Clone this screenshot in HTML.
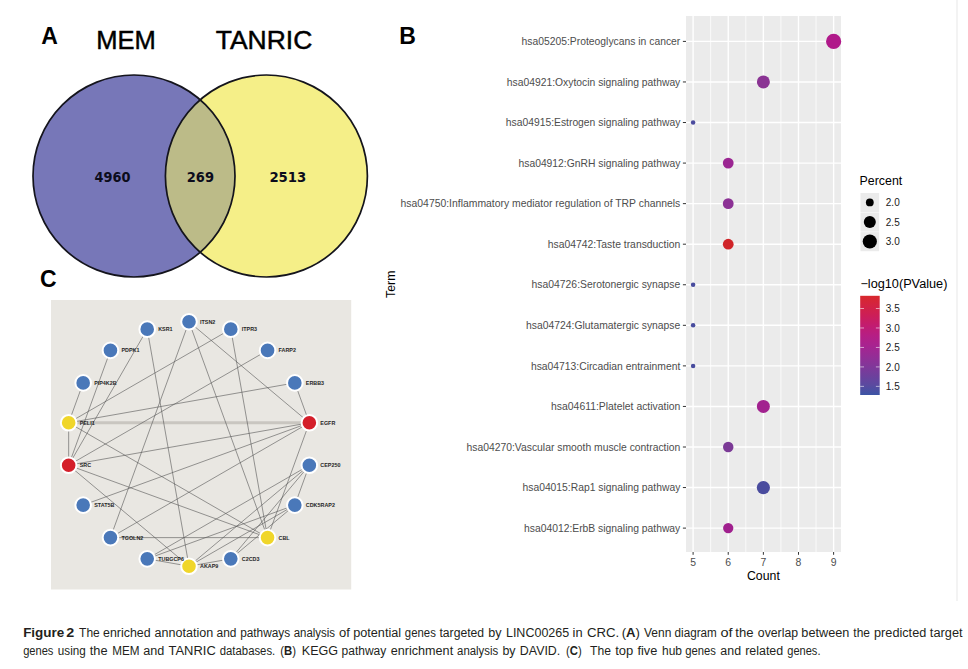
<!DOCTYPE html>
<html><head><meta charset="utf-8"><style>
html,body{margin:0;padding:0;background:#fff;}
body{width:968px;height:669px;position:relative;overflow:hidden;}
svg{position:absolute;left:0;top:0;}
.lab{font:bold 23px "Liberation Sans",sans-serif;fill:#000;}
.vt{font:25px "Liberation Sans",sans-serif;fill:#000;stroke:#000;stroke-width:0.45px;}
.vn{font-family:"DejaVu Sans",sans-serif;font-weight:bold;font-stretch:condensed;font-size:14.6px;fill:#0c0c1c;}
.yl{font:10.3px "Liberation Sans",sans-serif;fill:#4d4d4d;}
.xl{font:10.45px "Liberation Sans",sans-serif;fill:#4d4d4d;text-anchor:middle;}
.ll{font:10px "Liberation Sans",sans-serif;fill:#1a1a1a;}
.ttl{font:12.3px "Liberation Sans",sans-serif;fill:#000;}
.cp{font:12px "Liberation Sans",sans-serif;fill:#231f20;}
.nl{font:bold 5.4px "Liberation Sans",sans-serif;fill:#262626;}
</style></head><body>
<svg width="968" height="669" viewBox="0 0 968 669">

<text x="41.3" y="43.8" class="lab">A</text>
<text x="96.3" y="49.2" class="vt" textLength="59.6" lengthAdjust="spacingAndGlyphs">MEM</text>
<text x="215.7" y="49.2" class="vt" textLength="96.6" lengthAdjust="spacingAndGlyphs">TANRIC</text>
<defs><clipPath id="cl"><circle cx="134" cy="176" r="101"/></clipPath></defs>
<circle cx="134" cy="176" r="101" fill="#7777b8"/>
<circle cx="266.4" cy="176" r="101" fill="#f5ef88"/>
<circle cx="266.4" cy="176" r="101" fill="#bcbb88" clip-path="url(#cl)"/>
<circle cx="134" cy="176" r="101" fill="none" stroke="#14141c" stroke-width="1.7"/>
<circle cx="266.4" cy="176" r="101" fill="none" stroke="#14141c" stroke-width="1.7"/>
<text x="94.6" y="182.2" class="vn" textLength="35.9" lengthAdjust="spacingAndGlyphs">4960</text>
<text x="186.8" y="182.2" class="vn" textLength="27.2" lengthAdjust="spacingAndGlyphs">269</text>
<text x="269.4" y="182.2" class="vn" textLength="36.9" lengthAdjust="spacingAndGlyphs">2513</text>

<text x="399.3" y="43.8" class="lab">B</text>
<rect x="686" y="16" width="155" height="536" fill="#ebebeb"/>
<line x1="710.67" y1="16" x2="710.67" y2="552" stroke="#fff" stroke-width="0.75"/>
<line x1="745.80" y1="16" x2="745.80" y2="552" stroke="#fff" stroke-width="0.75"/>
<line x1="780.93" y1="16" x2="780.93" y2="552" stroke="#fff" stroke-width="0.75"/>
<line x1="816.06" y1="16" x2="816.06" y2="552" stroke="#fff" stroke-width="0.75"/>
<line x1="686" y1="41.40" x2="841" y2="41.40" stroke="#fff" stroke-width="1.4"/>
<line x1="686" y1="81.96" x2="841" y2="81.96" stroke="#fff" stroke-width="1.4"/>
<line x1="686" y1="122.52" x2="841" y2="122.52" stroke="#fff" stroke-width="1.4"/>
<line x1="686" y1="163.08" x2="841" y2="163.08" stroke="#fff" stroke-width="1.4"/>
<line x1="686" y1="203.64" x2="841" y2="203.64" stroke="#fff" stroke-width="1.4"/>
<line x1="686" y1="244.20" x2="841" y2="244.20" stroke="#fff" stroke-width="1.4"/>
<line x1="686" y1="284.76" x2="841" y2="284.76" stroke="#fff" stroke-width="1.4"/>
<line x1="686" y1="325.32" x2="841" y2="325.32" stroke="#fff" stroke-width="1.4"/>
<line x1="686" y1="365.88" x2="841" y2="365.88" stroke="#fff" stroke-width="1.4"/>
<line x1="686" y1="406.44" x2="841" y2="406.44" stroke="#fff" stroke-width="1.4"/>
<line x1="686" y1="447.00" x2="841" y2="447.00" stroke="#fff" stroke-width="1.4"/>
<line x1="686" y1="487.56" x2="841" y2="487.56" stroke="#fff" stroke-width="1.4"/>
<line x1="686" y1="528.12" x2="841" y2="528.12" stroke="#fff" stroke-width="1.4"/>
<line x1="693.10" y1="16" x2="693.10" y2="552" stroke="#fff" stroke-width="1.4"/>
<line x1="728.23" y1="16" x2="728.23" y2="552" stroke="#fff" stroke-width="1.4"/>
<line x1="763.36" y1="16" x2="763.36" y2="552" stroke="#fff" stroke-width="1.4"/>
<line x1="798.49" y1="16" x2="798.49" y2="552" stroke="#fff" stroke-width="1.4"/>
<line x1="833.62" y1="16" x2="833.62" y2="552" stroke="#fff" stroke-width="1.4"/>
<line x1="682.9" y1="41.40" x2="686" y2="41.40" stroke="#333" stroke-width="1"/>
<text x="521.50" y="45.10" class="yl" textLength="158.80" lengthAdjust="spacingAndGlyphs">hsa05205:Proteoglycans in cancer</text>
<line x1="682.9" y1="81.96" x2="686" y2="81.96" stroke="#333" stroke-width="1"/>
<text x="506.80" y="85.66" class="yl" textLength="173.50" lengthAdjust="spacingAndGlyphs">hsa04921:Oxytocin signaling pathway</text>
<line x1="682.9" y1="122.52" x2="686" y2="122.52" stroke="#333" stroke-width="1"/>
<text x="505.80" y="126.22" class="yl" textLength="174.50" lengthAdjust="spacingAndGlyphs">hsa04915:Estrogen signaling pathway</text>
<line x1="682.9" y1="163.08" x2="686" y2="163.08" stroke="#333" stroke-width="1"/>
<text x="518.50" y="166.78" class="yl" textLength="161.80" lengthAdjust="spacingAndGlyphs">hsa04912:GnRH signaling pathway</text>
<line x1="682.9" y1="203.64" x2="686" y2="203.64" stroke="#333" stroke-width="1"/>
<text x="400.60" y="207.34" class="yl" textLength="279.70" lengthAdjust="spacingAndGlyphs">hsa04750:Inflammatory mediator regulation of TRP channels</text>
<line x1="682.9" y1="244.20" x2="686" y2="244.20" stroke="#333" stroke-width="1"/>
<text x="547.70" y="247.90" class="yl" textLength="132.60" lengthAdjust="spacingAndGlyphs">hsa04742:Taste transduction</text>
<line x1="682.9" y1="284.76" x2="686" y2="284.76" stroke="#333" stroke-width="1"/>
<text x="531.60" y="288.46" class="yl" textLength="148.70" lengthAdjust="spacingAndGlyphs">hsa04726:Serotonergic synapse</text>
<line x1="682.9" y1="325.32" x2="686" y2="325.32" stroke="#333" stroke-width="1"/>
<text x="526.10" y="329.02" class="yl" textLength="154.20" lengthAdjust="spacingAndGlyphs">hsa04724:Glutamatergic synapse</text>
<line x1="682.9" y1="365.88" x2="686" y2="365.88" stroke="#333" stroke-width="1"/>
<text x="530.90" y="369.58" class="yl" textLength="149.40" lengthAdjust="spacingAndGlyphs">hsa04713:Circadian entrainment</text>
<line x1="682.9" y1="406.44" x2="686" y2="406.44" stroke="#333" stroke-width="1"/>
<text x="551.10" y="410.14" class="yl" textLength="129.20" lengthAdjust="spacingAndGlyphs">hsa04611:Platelet activation</text>
<line x1="682.9" y1="447.00" x2="686" y2="447.00" stroke="#333" stroke-width="1"/>
<text x="466.50" y="450.70" class="yl" textLength="213.80" lengthAdjust="spacingAndGlyphs">hsa04270:Vascular smooth muscle contraction</text>
<line x1="682.9" y1="487.56" x2="686" y2="487.56" stroke="#333" stroke-width="1"/>
<text x="522.50" y="491.26" class="yl" textLength="157.80" lengthAdjust="spacingAndGlyphs">hsa04015:Rap1 signaling pathway</text>
<line x1="682.9" y1="528.12" x2="686" y2="528.12" stroke="#333" stroke-width="1"/>
<text x="524.00" y="531.82" class="yl" textLength="156.30" lengthAdjust="spacingAndGlyphs">hsa04012:ErbB signaling pathway</text>
<line x1="693.10" y1="552" x2="693.10" y2="554.8" stroke="#333" stroke-width="1"/>
<text x="693.10" y="565.5" class="xl">5</text>
<line x1="728.23" y1="552" x2="728.23" y2="554.8" stroke="#333" stroke-width="1"/>
<text x="728.23" y="565.5" class="xl">6</text>
<line x1="763.36" y1="552" x2="763.36" y2="554.8" stroke="#333" stroke-width="1"/>
<text x="763.36" y="565.5" class="xl">7</text>
<line x1="798.49" y1="552" x2="798.49" y2="554.8" stroke="#333" stroke-width="1"/>
<text x="798.49" y="565.5" class="xl">8</text>
<line x1="833.62" y1="552" x2="833.62" y2="554.8" stroke="#333" stroke-width="1"/>
<text x="833.62" y="565.5" class="xl">9</text>
<text x="763.4" y="580.2" class="ttl" text-anchor="middle">Count</text>
<text transform="translate(394.6,284.3) rotate(-90)" class="ttl" text-anchor="middle">Term</text>
<circle cx="833.62" cy="41.40" r="7.6" fill="#b0198a"/>
<circle cx="763.36" cy="81.96" r="6.5" fill="#8a3393"/>
<circle cx="693.10" cy="122.52" r="2.25" fill="#4c4c9e"/>
<circle cx="728.23" cy="163.08" r="5.4" fill="#9b2692"/>
<circle cx="728.23" cy="203.64" r="5.4" fill="#8c3195"/>
<circle cx="728.23" cy="244.20" r="5.4" fill="#d02428"/>
<circle cx="693.10" cy="284.76" r="2.25" fill="#484c9e"/>
<circle cx="693.10" cy="325.32" r="2.25" fill="#484c9e"/>
<circle cx="693.10" cy="365.88" r="2.25" fill="#484c9e"/>
<circle cx="763.36" cy="406.44" r="6.5" fill="#a2228f"/>
<circle cx="728.23" cy="447.00" r="5.25" fill="#7b3a96"/>
<circle cx="763.36" cy="487.56" r="6.6" fill="#4a4c9e"/>
<circle cx="728.23" cy="528.12" r="5.15" fill="#a0208e"/>
<text x="859.6" y="184.9" class="ttl" textLength="42.6" lengthAdjust="spacingAndGlyphs">Percent</text>
<rect x="860.5" y="193.00" width="18.6" height="19.1" fill="#ebebeb"/>
<circle cx="869.8" cy="202.40" r="3.9" fill="#000"/>
<text x="885.8" y="206.00" class="ll">2.0</text>
<rect x="860.5" y="212.55" width="18.6" height="19.1" fill="#ebebeb"/>
<circle cx="869.8" cy="221.95" r="6.0" fill="#000"/>
<text x="885.8" y="225.55" class="ll">2.5</text>
<rect x="860.5" y="232.10" width="18.6" height="19.1" fill="#ebebeb"/>
<circle cx="869.8" cy="241.50" r="7.1" fill="#000"/>
<text x="885.8" y="245.10" class="ll">3.0</text>
<text x="860.4" y="288" class="ttl" textLength="87" lengthAdjust="spacingAndGlyphs">−log10(PValue)</text>
<defs><linearGradient id="cg" x1="0" y1="1" x2="0" y2="0">
<stop offset="0" stop-color="#3c54a5"/><stop offset="0.1" stop-color="#5a4aa0"/><stop offset="0.2" stop-color="#6f3f9c"/>
<stop offset="0.3" stop-color="#833699"/><stop offset="0.4" stop-color="#962c95"/><stop offset="0.5" stop-color="#a82390"/>
<stop offset="0.6" stop-color="#b61e84"/><stop offset="0.7" stop-color="#c21c70"/><stop offset="0.8" stop-color="#cc1e58"/>
<stop offset="0.9" stop-color="#d32342"/><stop offset="1" stop-color="#d8282c"/></linearGradient></defs>
<rect x="860.2" y="295.8" width="19.5" height="99.2" fill="url(#cg)"/>
<line x1="860.2" y1="308.50" x2="864" y2="308.50" stroke="#fff" stroke-opacity="0.7" stroke-width="0.8"/>
<line x1="875.9" y1="308.50" x2="879.7" y2="308.50" stroke="#fff" stroke-opacity="0.7" stroke-width="0.8"/>
<text x="885.8" y="312.10" class="ll">3.5</text>
<line x1="860.2" y1="327.97" x2="864" y2="327.97" stroke="#fff" stroke-opacity="0.7" stroke-width="0.8"/>
<line x1="875.9" y1="327.97" x2="879.7" y2="327.97" stroke="#fff" stroke-opacity="0.7" stroke-width="0.8"/>
<text x="885.8" y="331.57" class="ll">3.0</text>
<line x1="860.2" y1="347.44" x2="864" y2="347.44" stroke="#fff" stroke-opacity="0.7" stroke-width="0.8"/>
<line x1="875.9" y1="347.44" x2="879.7" y2="347.44" stroke="#fff" stroke-opacity="0.7" stroke-width="0.8"/>
<text x="885.8" y="351.04" class="ll">2.5</text>
<line x1="860.2" y1="366.91" x2="864" y2="366.91" stroke="#fff" stroke-opacity="0.7" stroke-width="0.8"/>
<line x1="875.9" y1="366.91" x2="879.7" y2="366.91" stroke="#fff" stroke-opacity="0.7" stroke-width="0.8"/>
<text x="885.8" y="370.51" class="ll">2.0</text>
<line x1="860.2" y1="386.38" x2="864" y2="386.38" stroke="#fff" stroke-opacity="0.7" stroke-width="0.8"/>
<line x1="875.9" y1="386.38" x2="879.7" y2="386.38" stroke="#fff" stroke-opacity="0.7" stroke-width="0.8"/>
<text x="885.8" y="389.98" class="ll">1.5</text>
<rect x="956" y="0" width="2" height="601" fill="#f3f3f3"/>
<text x="40" y="286.6" class="lab">C</text>
<rect x="51" y="300" width="300.2" height="289.5" fill="#e9e7e2"/>
<line x1="68.66" y1="422.78" x2="309.34" y2="422.78" stroke="#c9c6c0" stroke-width="3"/>
<line x1="68.66" y1="422.78" x2="68.66" y2="465.22" stroke="#555" stroke-width="0.6"/>
<line x1="68.66" y1="422.78" x2="83.17" y2="382.90" stroke="#555" stroke-width="0.6"/>
<line x1="68.66" y1="422.78" x2="230.79" y2="329.17" stroke="#555" stroke-width="0.6"/>
<line x1="68.66" y1="422.78" x2="294.83" y2="382.90" stroke="#555" stroke-width="0.6"/>
<line x1="68.66" y1="422.78" x2="267.55" y2="537.61" stroke="#555" stroke-width="0.6"/>
<line x1="68.66" y1="465.22" x2="147.21" y2="329.17" stroke="#555" stroke-width="0.6"/>
<line x1="68.66" y1="465.22" x2="110.45" y2="350.39" stroke="#555" stroke-width="0.6"/>
<line x1="68.66" y1="465.22" x2="267.55" y2="350.39" stroke="#555" stroke-width="0.6"/>
<line x1="68.66" y1="465.22" x2="309.34" y2="422.78" stroke="#555" stroke-width="0.6"/>
<line x1="68.66" y1="465.22" x2="267.55" y2="537.61" stroke="#555" stroke-width="0.6"/>
<line x1="68.66" y1="465.22" x2="189.00" y2="566.20" stroke="#555" stroke-width="0.6"/>
<line x1="309.34" y1="422.78" x2="189.00" y2="321.80" stroke="#555" stroke-width="0.6"/>
<line x1="309.34" y1="422.78" x2="294.83" y2="382.90" stroke="#555" stroke-width="0.6"/>
<line x1="309.34" y1="422.78" x2="83.17" y2="505.10" stroke="#555" stroke-width="0.6"/>
<line x1="309.34" y1="422.78" x2="110.45" y2="537.61" stroke="#555" stroke-width="0.6"/>
<line x1="309.34" y1="422.78" x2="267.55" y2="537.61" stroke="#555" stroke-width="0.6"/>
<line x1="267.55" y1="537.61" x2="189.00" y2="321.80" stroke="#555" stroke-width="0.6"/>
<line x1="267.55" y1="537.61" x2="230.79" y2="329.17" stroke="#555" stroke-width="0.6"/>
<line x1="267.55" y1="537.61" x2="110.45" y2="537.61" stroke="#555" stroke-width="0.6"/>
<line x1="189.00" y1="566.20" x2="147.21" y2="329.17" stroke="#555" stroke-width="0.6"/>
<line x1="189.00" y1="566.20" x2="147.21" y2="558.83" stroke="#555" stroke-width="0.6"/>
<line x1="189.00" y1="566.20" x2="230.79" y2="558.83" stroke="#555" stroke-width="0.6"/>
<line x1="189.00" y1="566.20" x2="309.34" y2="465.22" stroke="#555" stroke-width="0.6"/>
<line x1="189.00" y1="566.20" x2="294.83" y2="505.10" stroke="#555" stroke-width="0.6"/>
<line x1="309.34" y1="465.22" x2="294.83" y2="505.10" stroke="#555" stroke-width="0.6"/>
<line x1="309.34" y1="465.22" x2="147.21" y2="558.83" stroke="#555" stroke-width="0.6"/>
<line x1="309.34" y1="465.22" x2="230.79" y2="558.83" stroke="#555" stroke-width="0.6"/>
<line x1="294.83" y1="505.10" x2="147.21" y2="558.83" stroke="#555" stroke-width="0.6"/>
<line x1="294.83" y1="505.10" x2="230.79" y2="558.83" stroke="#555" stroke-width="0.6"/>
<line x1="189.00" y1="321.80" x2="110.45" y2="537.61" stroke="#555" stroke-width="0.6"/>
<circle cx="189.00" cy="321.80" r="7.8" fill="#4a78b9" stroke="#fff" stroke-width="2"/>
<text x="200.00" y="323.70" class="nl">ITSN2</text>
<circle cx="230.79" cy="329.17" r="7.8" fill="#4a78b9" stroke="#fff" stroke-width="2"/>
<text x="241.79" y="331.07" class="nl">ITPR3</text>
<circle cx="267.55" cy="350.39" r="7.8" fill="#4a78b9" stroke="#fff" stroke-width="2"/>
<text x="278.55" y="352.29" class="nl">FARP2</text>
<circle cx="294.83" cy="382.90" r="7.8" fill="#4a78b9" stroke="#fff" stroke-width="2"/>
<text x="305.83" y="384.80" class="nl">ERBB3</text>
<circle cx="309.34" cy="422.78" r="7.8" fill="#d41f2a" stroke="#fff" stroke-width="2"/>
<text x="320.34" y="424.68" class="nl">EGFR</text>
<circle cx="309.34" cy="465.22" r="7.8" fill="#4a78b9" stroke="#fff" stroke-width="2"/>
<text x="320.34" y="467.12" class="nl">CEP250</text>
<circle cx="294.83" cy="505.10" r="7.8" fill="#4a78b9" stroke="#fff" stroke-width="2"/>
<text x="305.83" y="507.00" class="nl">CDK5RAP2</text>
<circle cx="267.55" cy="537.61" r="7.8" fill="#f0d62a" stroke="#fff" stroke-width="2"/>
<text x="278.55" y="539.51" class="nl">CBL</text>
<circle cx="230.79" cy="558.83" r="7.8" fill="#4a78b9" stroke="#fff" stroke-width="2"/>
<text x="241.79" y="560.73" class="nl">C2CD3</text>
<circle cx="189.00" cy="566.20" r="7.8" fill="#f0d62a" stroke="#fff" stroke-width="2"/>
<text x="200.00" y="568.10" class="nl">AKAP9</text>
<circle cx="147.21" cy="558.83" r="7.8" fill="#4a78b9" stroke="#fff" stroke-width="2"/>
<text x="158.21" y="560.73" class="nl">TUBGCP6</text>
<circle cx="110.45" cy="537.61" r="7.8" fill="#4a78b9" stroke="#fff" stroke-width="2"/>
<text x="121.45" y="539.51" class="nl">TGOLN2</text>
<circle cx="83.17" cy="505.10" r="7.8" fill="#4a78b9" stroke="#fff" stroke-width="2"/>
<text x="94.17" y="507.00" class="nl">STAT5B</text>
<circle cx="68.66" cy="465.22" r="7.8" fill="#d41f2a" stroke="#fff" stroke-width="2"/>
<text x="79.66" y="467.12" class="nl">SRC</text>
<circle cx="68.66" cy="422.78" r="7.8" fill="#f0d62a" stroke="#fff" stroke-width="2"/>
<text x="79.66" y="424.68" class="nl">PELI1</text>
<circle cx="83.17" cy="382.90" r="7.8" fill="#4a78b9" stroke="#fff" stroke-width="2"/>
<text x="94.17" y="384.80" class="nl">PIP4K2B</text>
<circle cx="110.45" cy="350.39" r="7.8" fill="#4a78b9" stroke="#fff" stroke-width="2"/>
<text x="121.45" y="352.29" class="nl">PDPK1</text>
<circle cx="147.21" cy="329.17" r="7.8" fill="#4a78b9" stroke="#fff" stroke-width="2"/>
<text x="158.21" y="331.07" class="nl">KSR1</text>
<text x="23.15" y="636.7" class="cp" textLength="41.10" lengthAdjust="spacingAndGlyphs"><tspan font-weight='bold'>Figure</tspan></text>
<text x="66.15" y="636.7" class="cp" textLength="8.00" lengthAdjust="spacingAndGlyphs"><tspan font-weight='bold'>2</tspan></text>
<text x="79.05" y="636.7" class="cp" textLength="20.70" lengthAdjust="spacingAndGlyphs">The</text>
<text x="103.05" y="636.7" class="cp" textLength="47.50" lengthAdjust="spacingAndGlyphs">enriched</text>
<text x="154.55" y="636.7" class="cp" textLength="58.70" lengthAdjust="spacingAndGlyphs">annotation</text>
<text x="216.55" y="636.7" class="cp" textLength="19.90" lengthAdjust="spacingAndGlyphs">and</text>
<text x="240.15" y="636.7" class="cp" textLength="50.00" lengthAdjust="spacingAndGlyphs">pathways</text>
<text x="293.65" y="636.7" class="cp" textLength="41.40" lengthAdjust="spacingAndGlyphs">analysis</text>
<text x="339.05" y="636.7" class="cp" textLength="10.90" lengthAdjust="spacingAndGlyphs">of</text>
<text x="353.15" y="636.7" class="cp" textLength="48.00" lengthAdjust="spacingAndGlyphs">potential</text>
<text x="404.85" y="636.7" class="cp" textLength="31.00" lengthAdjust="spacingAndGlyphs">genes</text>
<text x="439.45" y="636.7" class="cp" textLength="44.70" lengthAdjust="spacingAndGlyphs">targeted</text>
<text x="488.25" y="636.7" class="cp" textLength="13.30" lengthAdjust="spacingAndGlyphs">by</text>
<text x="505.95" y="636.7" class="cp" textLength="63.30" lengthAdjust="spacingAndGlyphs">LINC00265</text>
<text x="572.55" y="636.7" class="cp" textLength="10.00" lengthAdjust="spacingAndGlyphs">in</text>
<text x="586.95" y="636.7" class="cp" textLength="32.30" lengthAdjust="spacingAndGlyphs">CRC.</text>
<text x="621.65" y="636.7" class="cp" textLength="18.30" lengthAdjust="spacingAndGlyphs">(<tspan font-weight='bold'>A</tspan>)</text>
<text x="643.95" y="636.7" class="cp" textLength="27.40" lengthAdjust="spacingAndGlyphs">Venn</text>
<text x="674.55" y="636.7" class="cp" textLength="42.20" lengthAdjust="spacingAndGlyphs">diagram</text>
<text x="720.55" y="636.7" class="cp" textLength="12.10" lengthAdjust="spacingAndGlyphs">of</text>
<text x="735.25" y="636.7" class="cp" textLength="18.20" lengthAdjust="spacingAndGlyphs">the</text>
<text x="757.85" y="636.7" class="cp" textLength="40.20" lengthAdjust="spacingAndGlyphs">overlap</text>
<text x="801.35" y="636.7" class="cp" textLength="48.00" lengthAdjust="spacingAndGlyphs">between</text>
<text x="853.35" y="636.7" class="cp" textLength="16.60" lengthAdjust="spacingAndGlyphs">the</text>
<text x="874.05" y="636.7" class="cp" textLength="52.20" lengthAdjust="spacingAndGlyphs">predicted</text>
<text x="929.85" y="636.7" class="cp" textLength="32.70" lengthAdjust="spacingAndGlyphs">target</text>
<text x="23.15" y="654.5" class="cp" textLength="30.30" lengthAdjust="spacingAndGlyphs">genes</text>
<text x="57.85" y="654.5" class="cp" textLength="27.90" lengthAdjust="spacingAndGlyphs">using</text>
<text x="89.75" y="654.5" class="cp" textLength="17.80" lengthAdjust="spacingAndGlyphs">the</text>
<text x="112.15" y="654.5" class="cp" textLength="27.30" lengthAdjust="spacingAndGlyphs">MEM</text>
<text x="143.15" y="654.5" class="cp" textLength="21.10" lengthAdjust="spacingAndGlyphs">and</text>
<text x="168.55" y="654.5" class="cp" textLength="47.20" lengthAdjust="spacingAndGlyphs">TANRIC</text>
<text x="219.75" y="654.5" class="cp" textLength="55.50" lengthAdjust="spacingAndGlyphs">databases.</text>
<text x="280.15" y="654.5" class="cp" textLength="15.80" lengthAdjust="spacingAndGlyphs">(<tspan font-weight='bold'>B</tspan>)</text>
<text x="301.75" y="654.5" class="cp" textLength="36.30" lengthAdjust="spacingAndGlyphs">KEGG</text>
<text x="341.55" y="654.5" class="cp" textLength="44.70" lengthAdjust="spacingAndGlyphs">pathway</text>
<text x="390.75" y="654.5" class="cp" textLength="62.40" lengthAdjust="spacingAndGlyphs">enrichment</text>
<text x="457.05" y="654.5" class="cp" textLength="41.20" lengthAdjust="spacingAndGlyphs">analysis</text>
<text x="502.45" y="654.5" class="cp" textLength="13.10" lengthAdjust="spacingAndGlyphs">by</text>
<text x="519.85" y="654.5" class="cp" textLength="40.40" lengthAdjust="spacingAndGlyphs">DAVID.</text>
<text x="565.95" y="654.5" class="cp" textLength="15.70" lengthAdjust="spacingAndGlyphs">(<tspan font-weight='bold'>C</tspan>)</text>
<text x="590.05" y="654.5" class="cp" textLength="20.90" lengthAdjust="spacingAndGlyphs">The</text>
<text x="615.15" y="654.5" class="cp" textLength="18.10" lengthAdjust="spacingAndGlyphs">top</text>
<text x="637.45" y="654.5" class="cp" textLength="19.90" lengthAdjust="spacingAndGlyphs">five</text>
<text x="662.05" y="654.5" class="cp" textLength="20.00" lengthAdjust="spacingAndGlyphs">hub</text>
<text x="685.25" y="654.5" class="cp" textLength="30.70" lengthAdjust="spacingAndGlyphs">genes</text>
<text x="720.35" y="654.5" class="cp" textLength="20.70" lengthAdjust="spacingAndGlyphs">and</text>
<text x="745.15" y="654.5" class="cp" textLength="38.10" lengthAdjust="spacingAndGlyphs">related</text>
<text x="787.25" y="654.5" class="cp" textLength="33.20" lengthAdjust="spacingAndGlyphs">genes.</text>
</svg>
</body></html>
